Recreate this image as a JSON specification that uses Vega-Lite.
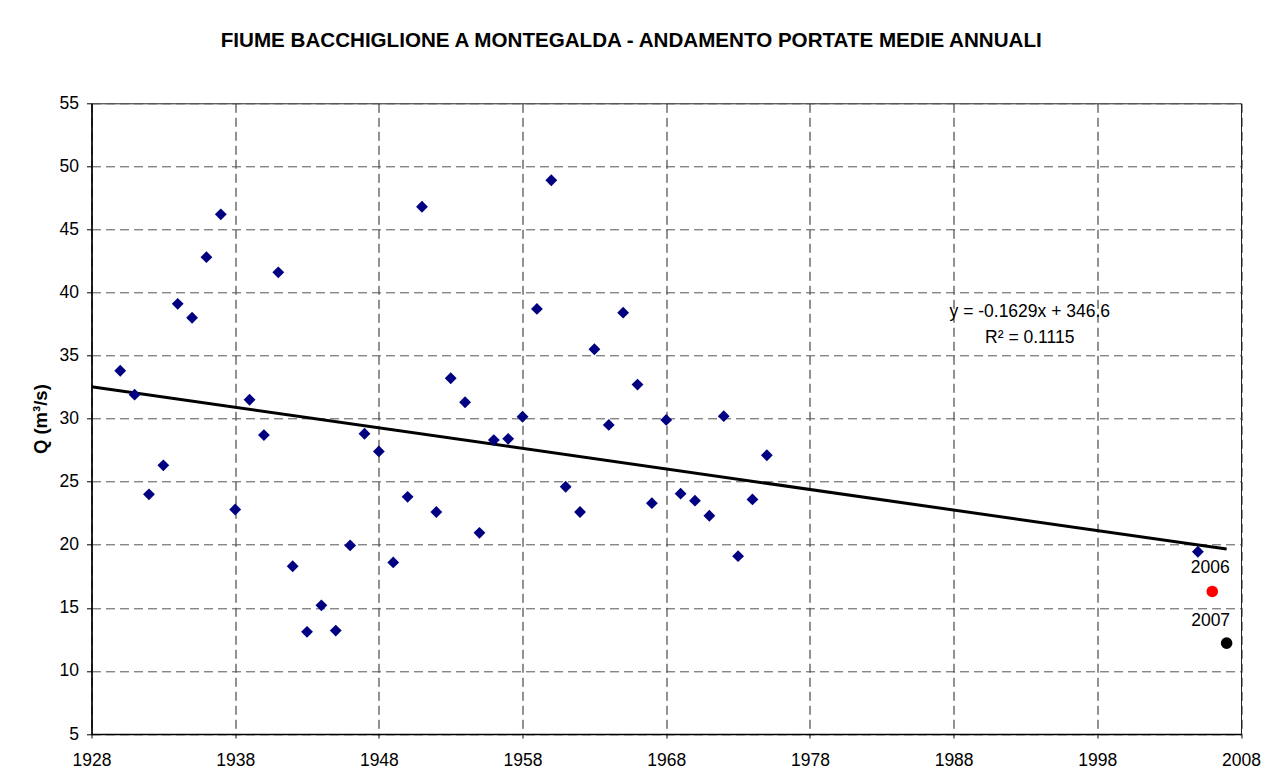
{
  "$schema": "https://vega.github.io/schema/vega-lite/v6.json",
  "width": 1149.5,
  "height": 630.7,
  "autosize": {"type": "none"},
  "padding": {"left": 91.5, "top": 103.3, "right": 34, "bottom": 48},
  "background": "white",
  "title": {
    "text": "FIUME BACCHIGLIONE A MONTEGALDA - ANDAMENTO PORTATE MEDIE ANNUALI",
    "font": "Liberation Sans",
    "fontSize": 20.6,
    "fontWeight": "bold",
    "color": "#000000",
    "anchor": "middle",
    "frame": "group",
    "baseline": "alphabetic",
    "dx": -35,
    "offset": 27
  },
  "datasets": {
    "annual": [
      {"year": 1930, "q": 33.8, "series": "storico"},
      {"year": 1931, "q": 31.9, "series": "storico"},
      {"year": 1932, "q": 24.0, "series": "storico"},
      {"year": 1933, "q": 26.3, "series": "storico"},
      {"year": 1934, "q": 39.1, "series": "storico"},
      {"year": 1935, "q": 38.0, "series": "storico"},
      {"year": 1936, "q": 42.8, "series": "storico"},
      {"year": 1937, "q": 46.2, "series": "storico"},
      {"year": 1938, "q": 22.8, "series": "storico"},
      {"year": 1939, "q": 31.5, "series": "storico"},
      {"year": 1940, "q": 28.7, "series": "storico"},
      {"year": 1941, "q": 41.6, "series": "storico"},
      {"year": 1942, "q": 18.3, "series": "storico"},
      {"year": 1943, "q": 13.1, "series": "storico"},
      {"year": 1944, "q": 15.2, "series": "storico"},
      {"year": 1945, "q": 13.2, "series": "storico"},
      {"year": 1946, "q": 19.95, "series": "storico"},
      {"year": 1947, "q": 28.8, "series": "storico"},
      {"year": 1948, "q": 27.4, "series": "storico"},
      {"year": 1949, "q": 18.6, "series": "storico"},
      {"year": 1950, "q": 23.8, "series": "storico"},
      {"year": 1951, "q": 46.8, "series": "storico"},
      {"year": 1952, "q": 22.6, "series": "storico"},
      {"year": 1953, "q": 33.2, "series": "storico"},
      {"year": 1954, "q": 31.3, "series": "storico"},
      {"year": 1955, "q": 20.95, "series": "storico"},
      {"year": 1956, "q": 28.3, "series": "storico"},
      {"year": 1957, "q": 28.4, "series": "storico"},
      {"year": 1958, "q": 30.15, "series": "storico"},
      {"year": 1959, "q": 38.7, "series": "storico"},
      {"year": 1960, "q": 48.9, "series": "storico"},
      {"year": 1961, "q": 24.6, "series": "storico"},
      {"year": 1962, "q": 22.6, "series": "storico"},
      {"year": 1963, "q": 35.5, "series": "storico"},
      {"year": 1964, "q": 29.5, "series": "storico"},
      {"year": 1965, "q": 38.4, "series": "storico"},
      {"year": 1966, "q": 32.7, "series": "storico"},
      {"year": 1967, "q": 23.3, "series": "storico"},
      {"year": 1968, "q": 29.9, "series": "storico"},
      {"year": 1969, "q": 24.05, "series": "storico"},
      {"year": 1970, "q": 23.5, "series": "storico"},
      {"year": 1971, "q": 22.3, "series": "storico"},
      {"year": 1972, "q": 30.2, "series": "storico"},
      {"year": 1973, "q": 19.1, "series": "storico"},
      {"year": 1974, "q": 23.6, "series": "storico"},
      {"year": 1975, "q": 27.1, "series": "storico"},
      {"year": 2005, "q": 19.45, "series": "storico"},
      {"year": 2006, "q": 16.3, "series": "2006"},
      {"year": 2007, "q": 12.2, "series": "2007"}
    ],
    "trend": [
      {"year": 1928, "q": 32.53},
      {"year": 2007, "q": 19.66}
    ],
    "equation": [
      {"year": 1993.3, "q": 38.45, "text": "y = -0.1629x + 346.6"},
      {"year": 1993.3, "q": 36.4, "text": "R² = 0.1115"}
    ]
  },
  "encoding": {
    "x": {
      "field": "year",
      "type": "quantitative",
      "scale": {"domain": [1928, 2008], "nice": false, "zero": false},
      "axis": {
        "title": null,
        "values": [1928, 1938, 1948, 1958, 1968, 1978, 1988, 1998, 2008],
        "format": "d",
        "grid": true,
        "gridColor": "#222222",
        "gridDash": [9, 5],
        "gridWidth": 1,
        "tickSize": 4,
        "labelPadding": 13,
        "labelFlush": false
      }
    },
    "y": {
      "field": "q",
      "type": "quantitative",
      "scale": {"domain": [5, 55], "nice": false, "zero": false},
      "axis": {
        "title": "Q (m³/s)",
        "values": [5, 10, 15, 20, 25, 30, 35, 40, 45, 50, 55],
        "grid": true,
        "gridColor": "#555555",
        "gridDash": [9, 5],
        "gridWidth": 1,
        "tickSize": 5,
        "labelPadding": 8,
        "titlePadding": 9,
        "titleFontWeight": "bold",
        "titleFontSize": 18.5
      }
    }
  },
  "layer": [
    {
      "data": {"name": "trend"},
      "mark": {"type": "line", "color": "#000000", "strokeWidth": 3, "clip": false}
    },
    {
      "data": {"name": "annual"},
      "transform": [{"filter": "datum.series === 'storico'"}],
      "mark": {"type": "point", "shape": "diamond", "filled": true, "color": "#000080", "opacity": 1, "size": 140}
    },
    {
      "data": {"name": "annual"},
      "transform": [{"filter": "datum.series !== 'storico'"}],
      "mark": {"type": "circle", "opacity": 1, "size": 135},
      "encoding": {
        "color": {
          "field": "series",
          "type": "nominal",
          "scale": {"domain": ["2006", "2007"], "range": ["#ff0000", "#000000"]},
          "legend": null
        }
      }
    },
    {
      "data": {"name": "annual"},
      "transform": [{"filter": "datum.series === '2006'"}],
      "mark": {"type": "text", "font": "Liberation Sans", "fontSize": 17.5, "color": "#000000", "baseline": "middle", "align": "center", "dx": -2, "dy": -23},
      "encoding": {"text": {"field": "series"}}
    },
    {
      "data": {"name": "annual"},
      "transform": [{"filter": "datum.series === '2007'"}],
      "mark": {"type": "text", "font": "Liberation Sans", "fontSize": 17.5, "color": "#000000", "baseline": "middle", "align": "center", "dx": -16, "dy": -22},
      "encoding": {"text": {"field": "series"}}
    },
    {
      "data": {"name": "equation"},
      "mark": {"type": "text", "font": "Liberation Sans", "fontSize": 17.5, "color": "#000000", "baseline": "middle", "align": "center"},
      "encoding": {"text": {"field": "text"}}
    }
  ],
  "config": {
    "view": {"stroke": "#222222", "strokeWidth": 1},
    "axis": {
      "domainColor": "#000000",
      "domainWidth": 1.5,
      "tickColor": "#000000",
      "labelFont": "Liberation Sans",
      "labelFontSize": 17.5,
      "labelColor": "#000000",
      "titleFont": "Liberation Sans",
      "titleColor": "#000000"
    }
  }
}
